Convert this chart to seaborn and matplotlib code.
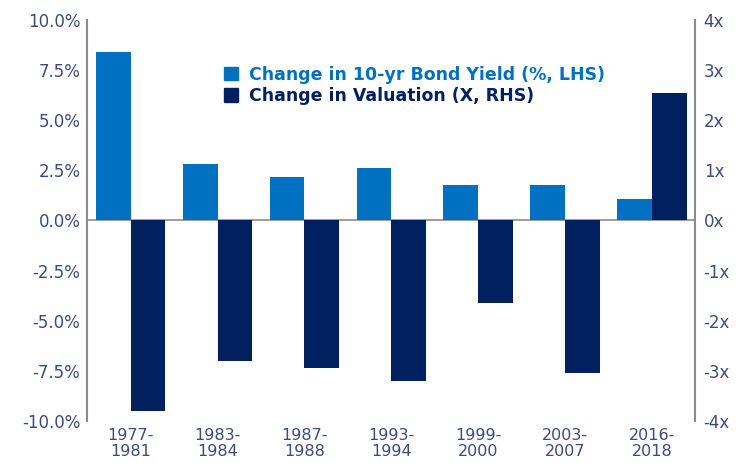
import pandas as pd
import matplotlib
matplotlib.use("Agg")
import matplotlib.pyplot as plt
import seaborn as sns

# Data
periods = ["1977-\n1981", "1983-\n1984", "1987-\n1988", "1993-\n1994",
           "1999-\n2000", "2003-\n2007", "2016-\n2018"]
bond_yield_chg = [8.4, 2.8, 2.15, 2.6, 1.75, 1.75, 1.05]      # %, LHS
valuation_chg = [-3.8, -2.8, -2.95, -3.2, -1.65, -3.05, 2.55]  # x, RHS

yield_name = "Change in 10-yr Bond Yield (%, LHS)"
val_name = "Change in Valuation (X, RHS)"
series_order = [yield_name, val_name]
colors = {yield_name: "#0070C0", val_name: "#002060"}
text_col = "#3d4a7e"

df_yield = pd.DataFrame({"period": periods, "value": bond_yield_chg, "series": yield_name})
df_val = pd.DataFrame({"period": periods, "value": valuation_chg, "series": val_name})

sns.set_style("white")
plt.rcParams["font.family"] = ["DejaVu Sans"]

fig = plt.figure(figsize=(7.39, 4.63), dpi=100)
ax = fig.add_axes([0.118, 0.091, 0.823, 0.866])
ax2 = ax.twinx()

# zero line behind the bars
ax.axhline(0, color="#8c8c8c", lw=1.2, zorder=0)

sns.barplot(data=df_yield, x="period", y="value", hue="series", hue_order=series_order,
            palette=colors, order=periods, width=0.8, dodge=True, saturation=1,
            linewidth=0, ax=ax, legend=False)
sns.barplot(data=df_val, x="period", y="value", hue="series", hue_order=series_order,
            palette=colors, order=periods, width=0.8, dodge=True, saturation=1,
            linewidth=0, ax=ax2, legend=False)

ax.set_ylim(-10, 10)
ax2.set_ylim(-4, 4)
ax.set_xlim(-0.5, len(periods) - 0.5)
ax.set_yticks([-10, -7.5, -5, -2.5, 0, 2.5, 5, 7.5, 10])
ax.set_yticklabels([f"{v:.1f}%" for v in ax.get_yticks()])
ax2.set_yticks(range(-4, 5))
ax2.set_yticklabels([f"{v}x" for v in range(-4, 5)])
ax.set_xlabel("")
ax.set_ylabel("")
ax2.set_ylabel("")

for a in (ax, ax2):
    for s in ("top", "bottom"):
        a.spines[s].set_visible(False)
    a.tick_params(length=0, labelsize=12, labelcolor=text_col)
ax.spines["left"].set_color("#8c8c8c")
ax.spines["left"].set_linewidth(1.5)
ax2.spines["left"].set_visible(False)
ax2.spines["right"].set_color("#8c8c8c")
ax2.spines["right"].set_linewidth(1.5)
ax.spines["right"].set_visible(False)
ax.tick_params(axis="x", pad=5, labelsize=11.5)
ax.tick_params(axis="y", pad=5)
ax2.tick_params(axis="y", pad=6)
for lbl in ax.get_xticklabels():
    lbl.set_linespacing(1.1)

# legend
handles = [plt.Rectangle((0, 0), 1, 1, color=colors[n]) for n in series_order]
leg = ax.legend(handles, series_order, loc="upper left", bbox_to_anchor=(0.2, 0.925),
                frameon=False, handlelength=0.8, handleheight=0.8, handletextpad=0.6,
                labelspacing=0.2, prop={"weight": "bold", "size": 12.5})
for t, n in zip(leg.get_texts(), series_order):
    t.set_color(colors[n])

fig.savefig("out.png", dpi=100)
